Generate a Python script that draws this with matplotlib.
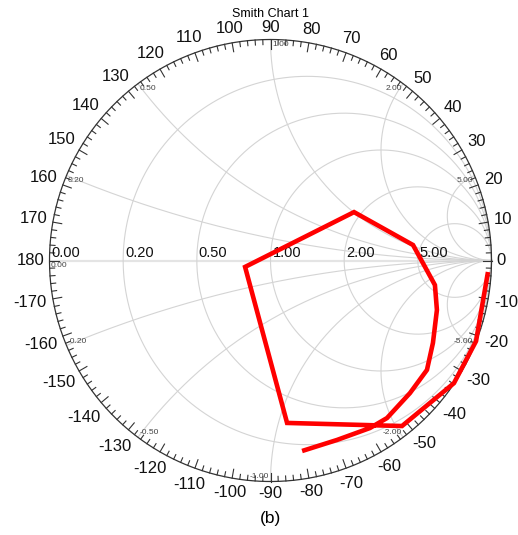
import matplotlib
matplotlib.use("Agg")
import matplotlib.pyplot as plt
import numpy as np

plt.rcParams["font.family"] = ["Liberation Sans", "DejaVu Sans"]

# grid values of the Smith chart
r_values = [0.2, 0.5, 1.0, 2.0, 5.0]
x_values = [0.2, 0.5, 1.0, 2.0, 5.0]
angle_labels = list(range(-170, 190, 10))

gamma_re = [0.143, 0.301, 0.450, 0.527, 0.631, 0.708, 0.735, 0.753, 0.744,
            0.645, 0.378, -0.115, 0.075, 0.595, 0.830, 0.930, 0.984]
gamma_im = [-0.862, -0.812, -0.758, -0.713, -0.600, -0.495, -0.373, -0.224, -0.111,
            0.070, 0.219, -0.029, -0.735, -0.749, -0.555, -0.365, -0.052]

W, H = 518, 535
CX, CY, R = 270.5, 260.5, 221.0  # pixel centre and radius of unit circle

fig = plt.figure(figsize=(W / 100, H / 100), dpi=100)
ax = fig.add_axes([0, 0, 1, 1])
ax.set_xlim(-CX / R, (W - CX) / R)
ax.set_ylim(-(H - CY) / R, CY / R)
ax.axis("off")

grid_c = "#d4d4d4"

# horizontal axis
ax.plot([-1, 1], [0, 0], color="#e4e4e4", linewidth=1.6, zorder=1)

# resistance circles
t = np.linspace(0, 2 * np.pi, 400)
for r in r_values:
    c = r / (1 + r)
    rad = 1 / (1 + r)
    ax.plot(c + rad * np.cos(t), rad * np.sin(t), color=grid_c, linewidth=0.8, zorder=1)

# reactance arcs
rr = np.concatenate([np.linspace(0, 1, 200), np.logspace(0, 5, 400)])
for xv in x_values:
    for s in (1, -1):
        z = rr + 1j * s * xv
        g = (z - 1) / (z + 1)
        ax.plot(g.real, g.imag, color=grid_c, linewidth=0.8, zorder=1)

# outer circle
ax.plot(np.cos(t), np.sin(t), color="#333333", linewidth=0.9, zorder=2)

# ticks on the rim
for a in range(-180, 180, 2):
    th = np.deg2rad(a)
    L = 9 / R if a % 10 == 0 else 5 / R
    ax.plot([np.cos(th), (1 - L) * np.cos(th)], [np.sin(th), (1 - L) * np.sin(th)],
            color="#333333", linewidth=0.8, zorder=2)

# angle labels outside
for a in angle_labels:
    th = np.deg2rad(a)
    s = str(a)
    w = 9.3 * len(s) - (3 if s.startswith("-") else 0)
    pad = 5 + (w / 2) * abs(np.cos(th)) + 7 * abs(np.sin(th))
    rad = 1 + pad / R
    ax.text(rad * np.cos(th), rad * np.sin(th), s, ha="center", va="center",
            fontsize=12, color="#111111")

# resistance labels along the axis
res_labels = [0.0] + r_values
for r in res_labels:
    gx = (r - 1) / (r + 1)
    ax.text(gx + 2 / R, 1 / R, "%.2f" % r, ha="left", va="bottom",
            fontsize=10.5, color="#111111", zorder=3)

# reactance labels at the rim
xl = [0.0] + x_values
for xv in xl:
    for s in ((1, -1) if xv > 0 else (1,)):
        z = 1j * s * xv
        g = (z - 1) / (z + 1)
        if s > 0:
            ha = "left" if xv <= 1 else "right"
            va = "top"
            dx, dy = (1.5 / R if ha == "left" else -1.5 / R), -1 / R
        else:
            ha = "left" if xv < 1 else "right"
            va = "bottom"
            dx, dy = (1.5 / R if ha == "left" else -1.5 / R), 1 / R
        lab = "%.2f" % (s * xv) if xv > 0 else "0.00"
        ax.text(g.real + dx, g.imag + dy, lab, ha=ha, va=va, fontsize=6,
                color="#444444", zorder=3)

# measured trace
ax.plot(gamma_re, gamma_im, color="#ff0000", linewidth=3.3, zorder=4,
        solid_joinstyle="miter", solid_capstyle="butt")

fig.text(CX / W, 1 - 14 / H, "Smith Chart 1", ha="center", va="center", fontsize=9)
fig.text(CX / W, 1 - 518 / H, "(b)", ha="center", va="center", fontsize=12.5)

fig.savefig("out.png", dpi=100)
